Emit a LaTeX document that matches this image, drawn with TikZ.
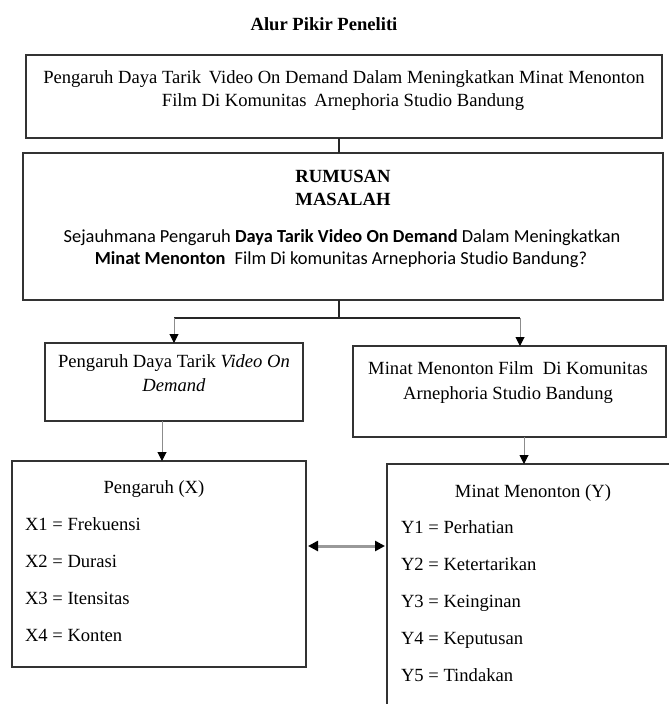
\documentclass[tikz,border=0pt]{standalone}
\usepackage{fontspec}
\setmainfont{Liberation Serif}
\newfontfamily\calib{Carlito}
\usetikzlibrary{arrows.meta}
\begin{document}
\begin{tikzpicture}[x=1pt,y=-1pt,
  box/.style={draw=black!80, line width=1.4pt, inner sep=0pt, outer sep=0pt, anchor=north west},
  txt/.style={inner sep=0pt, outer sep=0pt, anchor=base, font=\fontsize{18.6}{22}\selectfont},
  txtl/.style={txt, anchor=base west},
  ctxt/.style={inner sep=0pt, outer sep=0pt, anchor=base, font=\fontsize{18.4}{21}\selectfont\calib},
  link/.style={draw=black!85, line width=1.1pt},
  arr/.style={draw=black!45, line width=1pt, -{Triangle[width=9pt,length=9pt,color=black]}},
  dbl/.style={draw=black!40, line width=3pt, {Triangle[width=10pt,length=10pt,color=black]}-{Triangle[width=10pt,length=10pt,color=black]}}
]
\useasboundingbox (0,0) rectangle (669,704);
\clip (0,0) rectangle (669,704);

% title
\node[txt, font=\fontsize{18.6}{22}\selectfont\bfseries] (title) at (324,30) {Alur Pikir Peneliti};

% boxes
\node[box, minimum width=636pt, minimum height=83pt] (b1) at (26,55) {};
\node[box, minimum width=640pt, minimum height=147pt] (b2) at (23,153) {};
\node[box, minimum width=258pt, minimum height=78pt] (b3) at (45,343) {};
\node[box, minimum width=313pt, minimum height=91pt] (b4) at (353,346) {};
\node[box, minimum width=294pt, minimum height=206pt] (b5) at (12,461) {};
\node[box, minimum width=320pt, minimum height=280pt] (b6) at (387,464) {};

% box 1 text
\node[txt] (t1a) at (344,83) {Pengaruh Daya Tarik\, Video On Demand Dalam Meningkatkan Minat Menonton};
\node[txt] (t1b) at (343,106) {Film Di Komunitas\, Arnephoria Studio Bandung};

% box 2 text
\node[txt, font=\fontsize{18.6}{22}\selectfont\bfseries] (t2a) at (343,182) {RUMUSAN};
\node[txt, font=\fontsize{18.6}{22}\selectfont\bfseries] (t2b) at (343,205) {MASALAH};
\node[ctxt] (t2c) at (342,242) {Sejauhmana Pengaruh \textbf{Daya Tarik Video On Demand} Dalam Meningkatkan};
\node[ctxt] (t2d) at (341,264) {\textbf{Minat Menonton}\enspace Film Di komunitas Arnephoria Studio Bandung?};

% box 3 text
\node[txt] (t3a) at (174,367) {Pengaruh Daya Tarik \textit{Video On}};
\node[txt] (t3b) at (174,391) {\textit{Demand}};

% box 4 text
\node[txt] (t4a) at (508,374) {Minat Menonton Film\enspace Di Komunitas};
\node[txt] (t4b) at (508,399) {Arnephoria Studio Bandung};

% box 5 text
\node[txt] (t5h) at (154,493) {Pengaruh (X)};
\node[txtl] (x1) at (25,530) {X1 = Frekuensi};
\node[txtl] (x2) at (25,567) {X2 = Durasi};
\node[txtl] (x3) at (25,604) {X3 = Itensitas};
\node[txtl] (x4) at (25,641) {X4 = Konten};

% box 6 text
\node[txt] (t6h) at (533,497) {Minat Menonton (Y)};
\node[txtl] (y1) at (401,533) {Y1 = Perhatian};
\node[txtl] (y2) at (401,570) {Y2 = Ketertarikan};
\node[txtl] (y3) at (401,607) {Y3 = Keinginan};
\node[txtl] (y4) at (401,644) {Y4 = Keputusan};
\node[txtl] (y5) at (401,681) {Y5 = Tindakan};

% connectors
\coordinate (j) at (339,318);
\coordinate (jl) at (174,318);
\coordinate (jr) at (520,318);
\coordinate (xl) at (162,0);
\coordinate (xr) at (524,0);
\coordinate (ya) at (0,546);

\draw[link] (b1.south -| j) -- (b2.north -| j);
\draw[link] (b2.south -| j) -- (j);
\draw[link] (jl) -- (jr);
\draw[arr] (jl) -- (b3.north -| jl);
\draw[arr] (jr) -- (b4.north -| jr);
\draw[arr] (b3.south -| xl) -- (b5.north -| xl);
\draw[arr] (b4.south -| xr) -- (b6.north -| xr);
\draw[dbl] ([xshift=2pt]b5.east |- ya) -- ([xshift=-2pt]b6.west |- ya);
\end{tikzpicture}
\end{document}
